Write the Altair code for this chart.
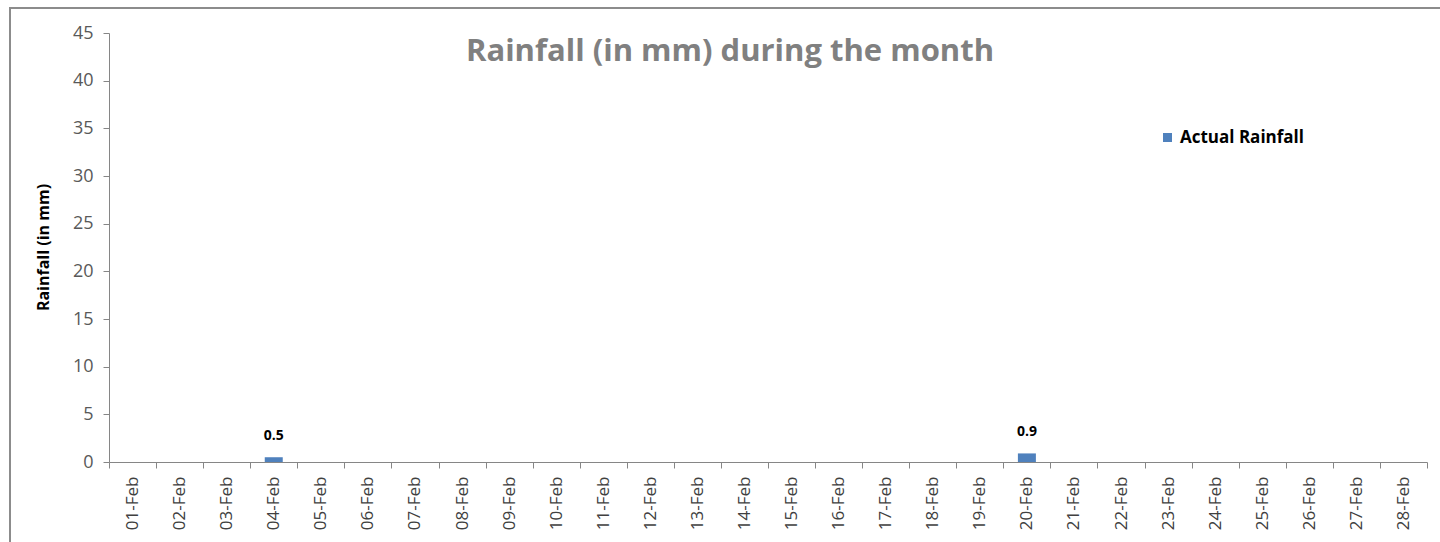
import altair as alt
import pandas as pd

days = [f"{d:02d}-Feb" for d in range(1, 29)]
rain = [None, None, None, 0.5, None, None, None, None, None, None,
        None, None, None, None, None, None, None, None, None, 0.9,
        None, None, None, None, None, None, None, None]
series = ["Actual Rainfall"] * len(days)

df = pd.DataFrame({"day": days, "rain": rain, "series": series})

FONT = "Open Sans"
BLUE = "#4f81bd"
AXIS_GREY = "#868686"

x_enc = alt.X(
    "day:N",
    sort=days,
    scale=alt.Scale(domain=days, paddingInner=0, paddingOuter=0),
    axis=alt.Axis(
        title=None,
        labelAngle=-90,
        labelFont=FONT,
        labelFontSize=17,
        labelColor="#404040",
        labelPadding=8,
        tickBand="extent",
        tickSize=6,
        tickColor=AXIS_GREY,
        domainColor=AXIS_GREY,
        labelBaseline="middle",
    ),
)

y_enc = alt.Y(
    "rain:Q",
    scale=alt.Scale(domain=[0, 45]),
    axis=alt.Axis(
        values=list(range(0, 50, 5)),
        title="Rainfall (in mm)",
        titleFont=FONT,
        titleFontSize=16,
        titleFontWeight="bold",
        titleColor="#000000",
        titleX=-58,
        titleY=214,
        titleAngle=-90,
        labelFont=FONT,
        labelFontSize=18,
        labelColor="#595959",
        labelPadding=10,
        tickSize=6,
        tickColor=AXIS_GREY,
        domainColor=AXIS_GREY,
        grid=False,
    ),
)

bars = alt.Chart(df).mark_bar(size=18).encode(
    x=x_enc,
    y=y_enc,
    color=alt.Color(
        "series:N",
        scale=alt.Scale(domain=["Actual Rainfall"], range=[BLUE]),
        legend=alt.Legend(
            title=None,
            orient="none",
            legendX=1050,
            legendY=96,
            symbolType="square",
            symbolSize=81,
            symbolStrokeWidth=0,
            labelFont=FONT,
            labelFontSize=17,
            labelFontWeight="bold",
            labelColor="#000000",
        ),
    ),
)

labels = alt.Chart(df).transform_filter(
    alt.datum.rain != None
).mark_text(
    font=FONT, fontSize=14, fontWeight="bold", color="#000000", dy=-21
).encode(
    x=alt.X("day:N", sort=days),
    y="rain:Q",
    text=alt.Text("rain:Q", format=".1f"),
)

frame = alt.Chart(df).mark_rect(
    fill=None, stroke="#8c8c8c", strokeWidth=2
).encode(
    x=alt.value(-99), x2=alt.value(1400),
    y=alt.value(-25), y2=alt.value(600),
)

chart = alt.layer(frame, bars, labels).properties(
    width=1318,
    height=429,
    background="#ffffff",
    padding={"left": 109, "top": 33, "right": 13, "bottom": 80},
    autosize=alt.AutoSizeParams(type="none"),
    title=alt.TitleParams(
        "Rainfall (in mm) during the month",
        font=FONT,
        fontSize=31,
        fontWeight="bold",
        color="#808080",
        anchor="middle",
        dx=-38,
        dy=61,
        offset=0,
    ),
).configure_view(stroke=None, strokeWidth=0)

chart.save("out.html", embed_options={"renderer": "svg", "actions": False})
